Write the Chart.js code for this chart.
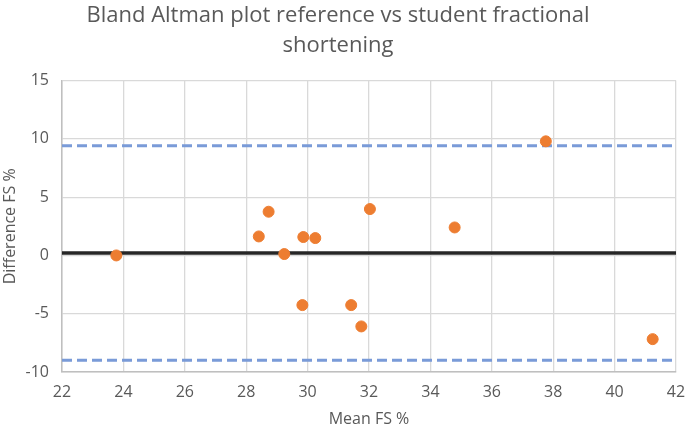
<!DOCTYPE html>
<html>
<head>
<meta charset="utf-8">
<script src="https://cdn.jsdelivr.net/npm/chart.js@4/dist/chart.umd.min.js"></script>
<style>
  html, body { margin: 0; padding: 0; background: #fff; }
  #wrap { width: 685px; height: 429px; }
</style>
</head>
<body>
<div id="wrap"><canvas id="ba" width="685" height="429"></canvas></div>
<script>
// Mean of the two measurements (x) and their difference (y)
const meanFS = [23.77, 28.41, 28.73, 29.24, 29.86, 30.25, 32.03, 29.83, 31.42, 31.75, 34.79, 37.76, 41.24];
const diffFS = [0.0, 1.63, 3.75, 0.12, 1.58, 1.49, 3.98, -4.26, -4.26, -6.09, 2.40, 9.79, -7.18];

// bias and limits of agreement
const meanDiff = 0.2;
const upperLoA = 9.4;
const lowerLoA = -9.0;

const xRange = [22, 42];
const yRange = [-10, 15];

const points = meanFS.map((x, i) => ({ x: x, y: diffFS[i] }));
const hLine = (v) => xRange.map(x => ({ x: x, y: v }));

const grey = '#595959';
const font = "'Open Sans', 'Liberation Sans', sans-serif";

const cfg = {
  type: 'scatter',
  data: {
    datasets: [
      {
        label: 'Differences',
        data: points,
        backgroundColor: '#ED7D31',
        borderColor: '#ED7D31',
        pointRadius: 5.5,
        pointHoverRadius: 5.5,
        order: 0
      },
      {
        label: 'Mean',
        type: 'line',
        data: hLine(meanDiff),
        borderColor: '#262626',
        borderWidth: 3.5,
        pointRadius: 0,
        order: 1
      },
      {
        label: 'Upper',
        type: 'line',
        data: hLine(upperLoA),
        borderColor: '#7A9BD8',
        borderWidth: 3,
        borderDash: [10, 5],
        pointRadius: 0,
        order: 2
      },
      {
        label: 'Lower',
        type: 'line',
        data: hLine(lowerLoA),
        borderColor: '#7A9BD8',
        borderWidth: 3,
        borderDash: [10, 5],
        pointRadius: 0,
        order: 2
      }
    ]
  },
  options: {
    responsive: false,
    animation: false,
    layout: { padding: { left: 0, right: 9, top: 0, bottom: 0 } },
    plugins: {
      legend: { display: false },
      tooltip: { enabled: false },
      title: {
        display: true,
        text: ['Bland Altman plot reference vs student fractional', 'shortening'],
        color: grey,
        font: { family: font, size: 22, weight: 'normal', lineHeight: 1.4 },
        padding: { top: 0, bottom: 19 }
      }
    },
    scales: {
      x: {
        type: 'linear',
        min: xRange[0],
        max: xRange[1],
        afterFit: (s) => { s.height = 57; s.paddingRight = 0; s.paddingLeft = 0; },
        ticks: { stepSize: 2, color: grey, font: { family: font, size: 16 }, padding: 11 },
        grid: { color: '#D9D9D9', lineWidth: 1.3, drawTicks: false },
        border: { color: '#BFBFBF', width: 1.5 },
        title: { display: true, text: 'Mean FS %', color: grey, font: { family: font, size: 16 }, padding: { top: 0, bottom: 0 } }
      },
      y: {
        type: 'linear',
        min: yRange[0],
        max: yRange[1],
        afterFit: (s) => { s.width = 62; },
        ticks: { stepSize: 5, color: grey, font: { family: font, size: 16 }, padding: 13 },
        grid: { color: '#D9D9D9', lineWidth: 1.3, drawTicks: false },
        border: { color: '#BFBFBF', width: 1.5 },
        title: { display: true, text: 'Difference FS %', color: grey, font: { family: font, size: 16 }, padding: { top: 1, bottom: 0 } }
      }
    }
  }
};

new Chart(document.getElementById('ba'), cfg);
</script>
</body>
</html>
